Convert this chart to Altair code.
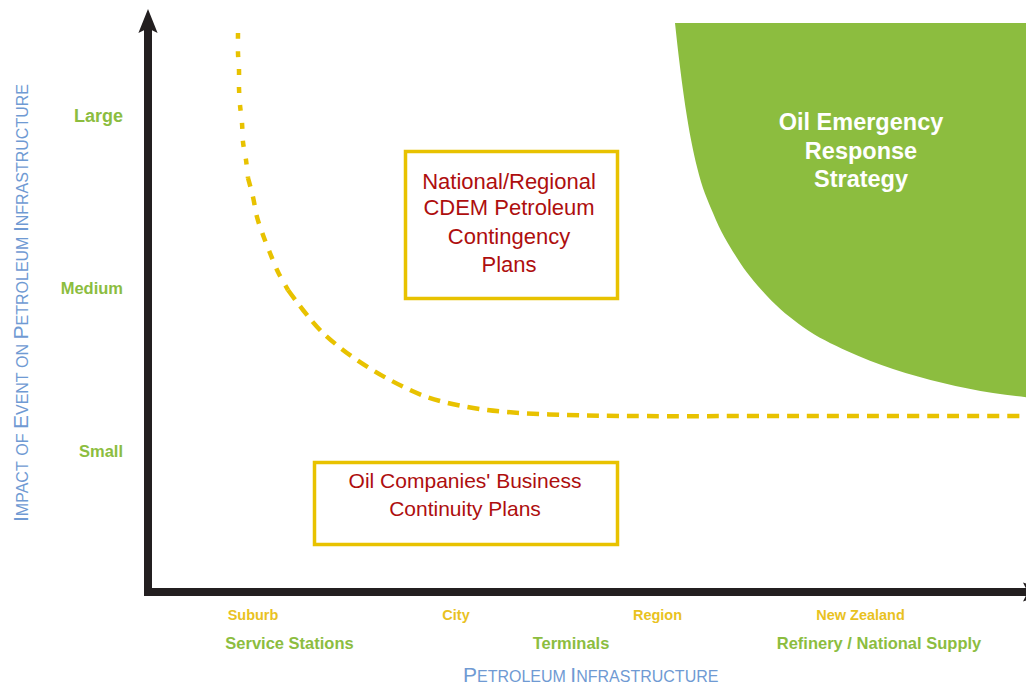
import altair as alt
import pandas as pd

# ---- Diagram coordinates: origin at the corner of the two black axes (1 unit ~ 1 px) ----
X_DOMAIN = [-140, 878]
Y_DOMAIN = [-94, 584]

# Yellow dashed boundary curve
curve_x = [90, 90, 91, 91, 92, 94, 95, 98, 100, 105, 109, 115, 122, 130, 140,
           155, 172, 190, 209, 242, 279, 319, 359, 419, 482, 652, 882]
curve_y = [559, 539, 522, 504, 487, 469, 450, 432, 414, 395, 375, 357, 339, 320, 302,
           282, 262, 246, 232, 212, 195, 185, 180, 177, 176, 176, 176]
curve_segments = [("top", 0, 8), ("mid", 8, 14), ("low", 14, 26)]

# Green "Oil Emergency Response Strategy" region (lower-left boundary)
green_x = [527, 532, 539, 549, 565, 589, 619, 655, 699, 745, 795, 845, 886]
green_y = [569, 525, 475, 425, 379, 334, 296, 265, 241, 223, 209, 199, 194]
green_top = 569

# Impact levels (y axis)
impact_labels = ["Large", "Medium", "Small"]
impact_y = [475, 303, 140]
impact_size = [18, 16.5, 16.5]

# Infrastructure scale (x axis)
area_labels = ["Suburb", "City", "Region", "New Zealand"]
area_x = [105, 308, 509.5, 712.5]
infra_labels = ["Service Stations", "Terminals", "Refinery / National Supply"]
infra_x = [141.5, 423, 731]

# Plan boxes
box_x = [257.5, 166.5]
box_x2 = [469.5, 469.5]
box_y = [440.5, 129.5]
box_y2 = [293.5, 47.5]

plan1_lines = ["National/Regional", "CDEM Petroleum", "Contingency", "Plans"]
plan1_y = [410, 384, 355, 327]
plan2_lines = ["Oil Companies' Business", "Continuity Plans"]
plan2_y = [110, 82]
oers_lines = ["Oil Emergency", "Response", "Strategy"]
oers_y = [469, 440, 412]

x_title = "Petroleum Infrastructure"
y_title = "Impact of Event on Petroleum Infrastructure"

GREEN = "#8CBD3F"
YELLOW = "#E8C200"
YELLOW_TXT = "#E9C21F"
RED = "#AE0E0E"
BLUE = "#6F9AD3"
BLACK = "#231F20"
FONT = "Liberation Sans"

X = alt.X("x:Q", scale=alt.Scale(domain=X_DOMAIN, nice=False, zero=False), axis=None)
Y = alt.Y("y:Q", scale=alt.Scale(domain=Y_DOMAIN, nice=False, zero=False), axis=None)

# ---- green region ----
green_df = pd.DataFrame({"x": green_x, "y": green_y, "y2": green_top})
green = alt.Chart(green_df).mark_area(color=GREEN, interpolate="monotone", opacity=1).encode(
    x=X, y=Y, y2="y2:Q")

# ---- boxes ----
box_df = pd.DataFrame({"x": box_x, "x2": box_x2, "y": box_y, "y2": box_y2})
boxes = alt.Chart(box_df).mark_rect(fill="white", fillOpacity=0, stroke=YELLOW, strokeWidth=3.5).encode(
    x=X, x2="x2:Q", y=Y, y2="y2:Q")

# ---- dashed curve ----
rows = []
for name, a, b in curve_segments:
    for i in range(a, b + 1):
        rows.append({"x": curve_x[i], "y": curve_y[i], "seg": name, "i": i})
curve_df = pd.DataFrame(rows)
curve = alt.Chart(curve_df).mark_line(color=YELLOW, strokeWidth=4.5, interpolate="catmull-rom").encode(
    x=X, y=Y, detail="seg:N", order="i:Q",
    strokeDash=alt.StrokeDash("seg:N", scale=alt.Scale(domain=["top", "mid", "low"],
                                                       range=[[6, 12], [9, 10], [12, 8]]), legend=None))

# ---- black axes ----
axes_df = pd.DataFrame({"x": [0, -4], "x2": [0, 880], "y": [-4, 0], "y2": [566, 0]})
axes = alt.Chart(axes_df).mark_rule(color=BLACK, strokeWidth=8, strokeCap="butt").encode(
    x=X, x2="x2:Q", y=Y, y2="y2:Q")
heads_df = pd.DataFrame({"x": [0, 887], "y": [571, 0], "ang": [0, 90]})
heads = alt.Chart(heads_df).mark_point(
    shape="M0,-1L0.8,1L0,0.6L-0.8,1Z", filled=True, size=576, color=BLACK, opacity=1, strokeWidth=0
).encode(x=X, y=Y, angle=alt.Angle("ang:Q", scale=None))

# ---- tick-like labels ----
ylab_df = pd.DataFrame({"x": -25, "y": impact_y, "text": impact_labels, "fs": impact_size})
ylabs = alt.Chart(ylab_df).mark_text(font=FONT, fontWeight="bold", align="right", baseline="middle",
                                     color=GREEN).encode(
    x=X, y=Y, text="text:N", size=alt.Size("fs:Q", scale=None))

xlab_df = pd.DataFrame({
    "x": area_x + infra_x,
    "y": [-24] * len(area_x) + [-52] * len(infra_x),
    "text": area_labels + infra_labels,
    "fs": [14.5] * len(area_x) + [16.5] * len(infra_x),
    "col": [YELLOW_TXT] * len(area_x) + [GREEN] * len(infra_x),
})
xlabs = alt.Chart(xlab_df).mark_text(font=FONT, fontWeight="bold", align="center", baseline="middle").encode(
    x=X, y=Y, text="text:N", size=alt.Size("fs:Q", scale=None), color=alt.Color("col:N", scale=None))

# ---- box texts ----
plan_df = pd.DataFrame({
    "x": [361] * len(plan1_lines) + [317] * len(plan2_lines),
    "y": plan1_y + plan2_y,
    "text": plan1_lines + plan2_lines,
    "fs": [22] * len(plan1_lines) + [21] * len(plan2_lines),
})
plans = alt.Chart(plan_df).mark_text(font=FONT, align="center", baseline="middle", color=RED).encode(
    x=X, y=Y, text="text:N", size=alt.Size("fs:Q", scale=None))

oers_df = pd.DataFrame({"x": 713, "y": oers_y, "text": oers_lines})
oers = alt.Chart(oers_df).mark_text(font=FONT, fontWeight="bold", fontSize=23.5, align="center",
                                    baseline="middle", color="white").encode(x=X, y=Y, text="text:N")

# ---- small-caps titles (capital letters larger, the rest as small capitals) ----
W = {"A": .667, "B": .667, "C": .722, "D": .722, "E": .667, "F": .611, "G": .778, "H": .722,
     "I": .278, "J": .5, "K": .667, "L": .556, "M": .833, "N": .722, "O": .778, "P": .667,
     "Q": .778, "R": .722, "S": .667, "T": .611, "U": .722, "V": .667, "W": .944, "X": .667,
     "Y": .667, "Z": .611, " ": .278}
BIG, SMALL = 21, 16


def smallcaps(text):
    out, pos = [], 0.0
    for word in text.split(" "):
        if word[0].isupper():
            out.append((word[0], BIG, pos))
            pos += W[word[0]] * BIG
            rest = word[1:].upper()
        else:
            rest = word.upper()
        if rest:
            out.append((rest, SMALL, pos))
            pos += sum(W[c] for c in rest) * SMALL
        pos += W[" "] * SMALL
    return out


xt = smallcaps(x_title)
xt_df = pd.DataFrame({"x": [315 + p for _, _, p in xt], "y": -90,
                      "text": [t for t, _, _ in xt], "fs": [f for _, f, _ in xt]})
xtitle = alt.Chart(xt_df).mark_text(font=FONT, align="left", baseline="alphabetic", color=BLUE).encode(
    x=X, y=Y, text="text:N", size=alt.Size("fs:Q", scale=None))

yt = smallcaps(y_title)
yt_df = pd.DataFrame({"x": -120, "y": [70 + p for _, _, p in yt],
                      "text": [t for t, _, _ in yt], "fs": [f for _, f, _ in yt]})
ytitle = alt.Chart(yt_df).mark_text(font=FONT, align="left", baseline="alphabetic", angle=270,
                                    color=BLUE).encode(
    x=X, y=Y, text="text:N", size=alt.Size("fs:Q", scale=None))

chart = alt.layer(green, boxes, curve, axes, heads, ylabs, xlabs, plans, oers, xtitle, ytitle).properties(
    width=1018, height=678, autosize=alt.AutoSizeParams(type="none"), padding=0,
    background="white"
).configure_view(stroke=None)

chart.save("out.html", embed_options={"renderer": "svg", "actions": False})
